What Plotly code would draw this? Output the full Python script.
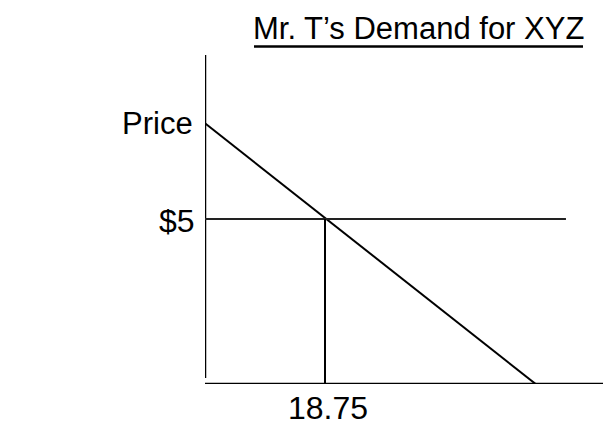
import plotly.graph_objects as go

# Data (quantity, price)
demand_q = [0, 52.45]
demand_p = [7.9, -0.12]
price_level = 5
quantity_at_price = 18.75
price_line_q = [0, 56.4]
yaxis_p = [0.18, 9.97]
xaxis_q = [0, 62.2]

title_text = "Mr. T\u2019s Demand for XYZ"
price_label = "$5"
qty_label = "18.75"
ylabel = "Price"

FONT = "Liberation Sans Narrow, Arial Narrow, Liberation Sans, Arial, sans-serif"

# page offset (default body margin) and plot geometry in screen pixels
OFF = 8
W, H = 611 - 2 * OFF, 435 - 2 * OFF
PLOT_L, PLOT_R, PLOT_T, PLOT_B = 205, OFF + W, OFF, 384
PX_Q, PX_P = 6.4, 33.0


def px(sx):
    return (sx - PLOT_L) / (PLOT_R - PLOT_L)


def py(sy):
    return (PLOT_B - sy) / (PLOT_B - PLOT_T)


fig = go.Figure()
fig.add_trace(go.Scatter(x=[0, 0], y=yaxis_p, mode="lines",
                         line=dict(color="black", width=2.5), hoverinfo="skip"))
fig.add_trace(go.Scatter(x=xaxis_q, y=[0, 0], mode="lines",
                         line=dict(color="black", width=2.5), hoverinfo="skip"))
fig.add_trace(go.Scatter(x=demand_q, y=demand_p, mode="lines",
                         line=dict(color="black", width=2), hoverinfo="skip"))
fig.add_trace(go.Scatter(x=price_line_q, y=[price_level, price_level], mode="lines",
                         line=dict(color="#222", width=2), hoverinfo="skip"))
fig.add_trace(go.Scatter(x=[quantity_at_price, quantity_at_price], y=[price_level, -0.09],
                         mode="lines", line=dict(color="black", width=2), hoverinfo="skip"))

fig.update_layout(
    width=W, height=H,
    margin=dict(l=PLOT_L - OFF, r=0, t=PLOT_T - OFF, b=(OFF + H) - PLOT_B),
    paper_bgcolor="white", plot_bgcolor="white",
    showlegend=False,
    xaxis=dict(range=[0, (PLOT_R - PLOT_L) / PX_Q], visible=False, fixedrange=True),
    yaxis=dict(range=[0, (PLOT_B - PLOT_T) / PX_P], visible=False, fixedrange=True),
    font=dict(family=FONT, color="black"),
)

fig.add_annotation(x=px(197), y=py(221), xref="paper", yref="paper", text=price_label,
                   showarrow=False, xanchor="right", yanchor="middle",
                   font=dict(size=32, family=FONT, color="black"))
fig.add_annotation(x=px(328), y=py(408), xref="paper", yref="paper", text=qty_label,
                   showarrow=False, xanchor="center", yanchor="middle", borderpad=0,
                   font=dict(size=32, family=FONT, color="black"))
fig.add_annotation(x=px(157), y=py(124), xref="paper", yref="paper", text=ylabel,
                   showarrow=False, xanchor="center", yanchor="middle",
                   font=dict(size=31, family=FONT, color="black"))
fig.add_annotation(x=px(418.5), y=py(29), xref="paper", yref="paper",
                   text=title_text, showarrow=False, xanchor="center", yanchor="middle",
                   font=dict(size=31, family=FONT, color="black"))
fig.add_shape(type="line", xref="paper", yref="paper",
              x0=px(254), x1=px(583), y0=py(46.5), y1=py(46.5),
              line=dict(color="black", width=2.5))

fig.write_html("out.html")
